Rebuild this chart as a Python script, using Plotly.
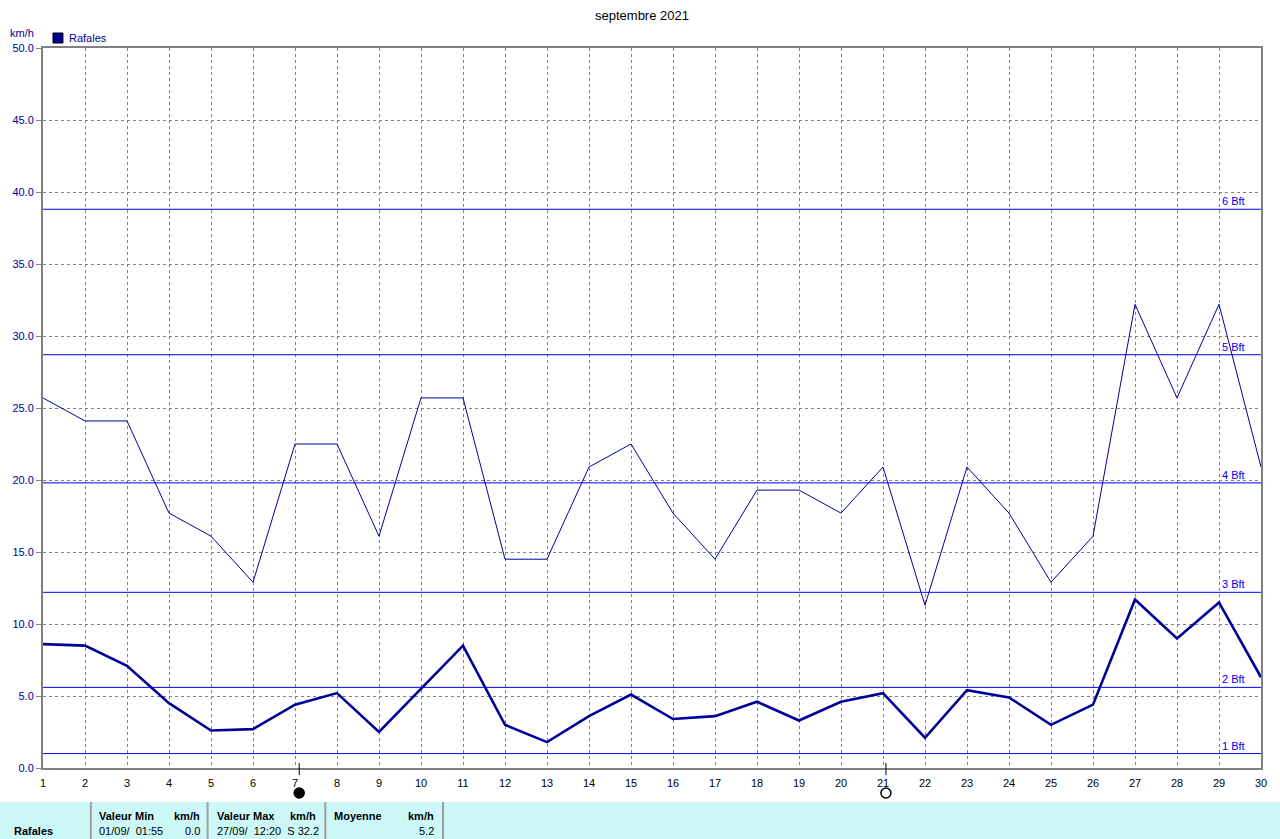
import plotly.graph_objects as go

# ---------------- data ----------------
days = list(range(1, 31))
rafales = [25.7, 24.1, 24.1, 17.7, 16.1, 12.9, 22.5, 22.5, 16.1, 25.7,
           25.7, 14.5, 14.5, 20.9, 22.5, 17.7, 14.5, 19.3, 19.3, 17.7,
           20.9, 11.3, 20.9, 17.7, 12.9, 16.1, 32.2, 25.7, 32.2, 20.9]
moyenne = [8.6, 8.5, 7.1, 4.5, 2.6, 2.7, 4.4, 5.2, 2.5, 5.5,
           8.5, 3.0, 1.8, 3.6, 5.1, 3.4, 3.6, 4.6, 3.3, 4.6,
           5.2, 2.1, 5.4, 4.9, 3.0, 4.4, 11.7, 9.0, 11.5, 6.3]
bft_levels = [1.0, 5.6, 12.2, 19.8, 28.7, 38.8]
bft_labels = ["1 Bft", "2 Bft", "3 Bft", "4 Bft", "5 Bft", "6 Bft"]
moon_days = [7.1, 21.07]
moon_filled = [True, False]
y_ticks = [0, 5, 10, 15, 20, 25, 30, 35, 40, 45, 50]

title = "septembre 2021"
unit = "km/h"
table_header = ["Valeur Min", "km/h", "Valeur Max", "km/h", "Moyenne", "km/h"]
table_row = ["Rafales", "01/09/  01:55", "0.0", "27/09/  12:20  S 32.2", "5.2"]

# ---------------- layout helpers (pixel -> paper) ----------------
W, H = 1280, 839
L, R, T, B = 40, 1261, 48, 768
def px(x):
    return (x - L) / (R - L)
def py(y):
    return (B - y) / (B - T)

FONT = "Liberation Sans"
fig = go.Figure()

shapes = []
annotations = []
# Beaufort lines
for lev, lab in zip(bft_levels, bft_labels):
    shapes.append(dict(type="line", xref="paper", yref="y", x0=0, x1=1, y0=lev, y1=lev,
                       line=dict(color="#0000ee", width=1), layer="above"))
    annotations.append(dict(text=lab, xref="paper", yref="y", x=px(1247), y=lev,
                            xanchor="right", yanchor="middle", yshift=8, showarrow=False,
                            font=dict(family=FONT, size=11, color="#0000ee")))

fig.add_trace(go.Scatter(x=days, y=rafales, mode="lines", name="Rafales",
                         line=dict(color="#00009c", width=1), showlegend=False))
fig.add_trace(go.Scatter(x=days, y=moyenne, mode="lines", name="Moyenne",
                         line=dict(color="#000099", width=2.6), showlegend=False))

# moon phases
for d, filled in zip(moon_days, moon_filled):
    shapes.append(dict(type="line", xref="x", yref="paper", x0=d, x1=d, y0=py(763), y1=py(775),
                       line=dict(color="black", width=1)))
    shapes.append(dict(type="circle", xref="x", yref="paper", xsizemode="pixel", ysizemode="pixel",
                       xanchor=d, yanchor=py(793), x0=-5, x1=5, y0=-5, y1=5,
                       fillcolor="black" if filled else "white",
                       line=dict(color="black", width=1.5)))

# title, unit, legend
annotations.append(dict(text=title, xref="paper", yref="paper", x=px(640), y=py(16),
                        xanchor="center", yanchor="middle", showarrow=False,
                        font=dict(family=FONT, size=13, color="black")))
annotations.append(dict(text=unit, xref="paper", yref="paper", x=px(5), y=py(33),
                        xanchor="left", yanchor="middle", showarrow=False,
                        font=dict(family=FONT, size=11, color="#000099")))
shapes.append(dict(type="rect", xref="paper", yref="paper", x0=px(50), x1=px(60), y0=py(43), y1=py(33),
                   fillcolor="#000099", line=dict(color="black", width=1)))
annotations.append(dict(text="Rafales", xref="paper", yref="paper", x=px(64), y=py(38),
                        xanchor="left", yanchor="middle", showarrow=False,
                        font=dict(family=FONT, size=11, color="#000099")))

# bottom table
shapes.append(dict(type="rect", xref="paper", yref="paper", x0=px(-5), x1=px(1285), y0=py(845), y1=py(802),
                   fillcolor="#ccf8f8", line=dict(width=0), layer="below"))
for sx in [88, 205, 323, 441]:
    shapes.append(dict(type="line", xref="paper", yref="paper", x0=px(sx), x1=px(sx), y0=py(845), y1=py(802),
                       line=dict(color="#a0a0a0", width=2)))
hdr_pos = [(94, "left"), (199, "right"), (212, "left"), (316, "right"), (330, "left"), (434, "right")]
for txt, (x, anc) in zip(table_header, hdr_pos):
    annotations.append(dict(text="<b>" + txt + "</b>", xref="paper", yref="paper", x=px(x), y=py(816),
                            xanchor=anc, yanchor="middle", showarrow=False,
                            font=dict(family=FONT, size=11, color="black")))
row_pos = [(9, "left"), (94, "left"), (199, "right"), (212, "left"), (434, "right")]
for i, (txt, (x, anc)) in enumerate(zip(table_row, row_pos)):
    t = "<b>" + txt + "</b>" if i == 0 else txt
    annotations.append(dict(text=t, xref="paper", yref="paper", x=px(x), y=py(831),
                            xanchor=anc, yanchor="middle", showarrow=False,
                            font=dict(family=FONT, size=11, color="black")))

fig.update_layout(
    width=W, height=H,
    margin=dict(l=L, r=W - R, t=T, b=H - B, pad=0),
    paper_bgcolor="white", plot_bgcolor="white",
    shapes=shapes, annotations=annotations,
    showlegend=False,
    xaxis=dict(range=[1, 30], tickmode="array", tickvals=days, ticktext=[str(d) for d in days],
               showgrid=True, gridcolor="#808080", griddash="3px,3px", gridwidth=1,
               showline=True, linecolor="#808080", linewidth=2, mirror=True,
               ticks="", zeroline=False, ticklabelstandoff=4,
               tickfont=dict(family=FONT, size=11, color="black")),
    yaxis=dict(range=[0, 50], tickmode="array", tickvals=y_ticks,
               ticktext=[f"{v:.1f}" for v in y_ticks],
               showgrid=True, gridcolor="#808080", griddash="3px,3px", gridwidth=1,
               showline=True, linecolor="#808080", linewidth=2, mirror=True,
               ticks="outside", ticklen=5, tickcolor="#808080", zeroline=False,
               tickfont=dict(family=FONT, size=11, color="#000099")),
)

fig.write_html("out.html", config={"displayModeBar": False},
               post_script="document.body.style.margin='0';document.body.style.overflow='hidden';")
